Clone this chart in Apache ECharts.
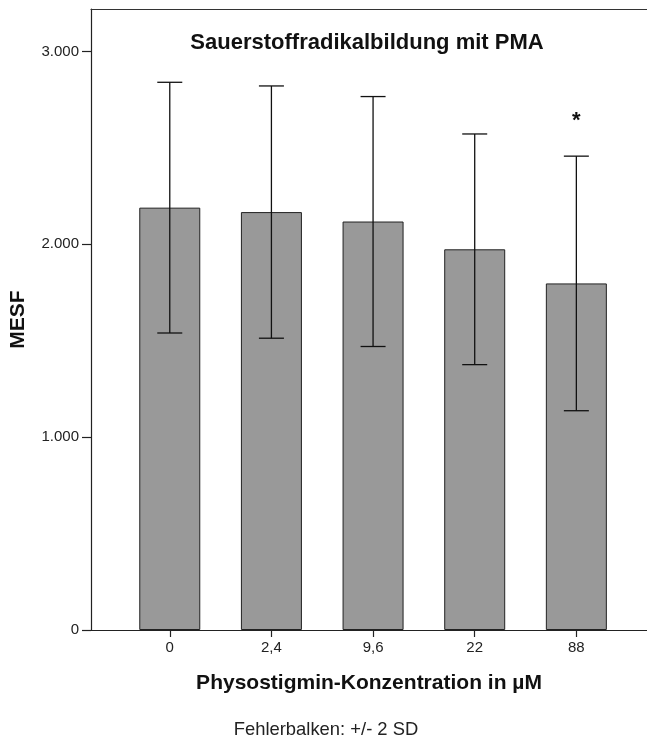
<!DOCTYPE html>
<html>
<head>
<meta charset="utf-8">
<script src="https://cdn.jsdelivr.net/npm/echarts@6/dist/echarts.min.js"></script>
<style type="text/css">
html, body { margin: 0; padding: 0; background: #fff; }
#chart { width: 647px; height: 737px; }
</style>
</head>
<body>
<div id="chart"></div>
<script type="text/javascript">
// Daten
var categories = ['0', '2,4', '9,6', '22', '88'];
var means = [2190, 2167, 2118, 1974, 1797];
var twoSD = [650, 654, 648, 598, 660];
var signif = [false, false, false, false, true];
var yTicks = [0, 1000, 2000, 3000];
var xTicks = [0, 1, 2, 3, 4];

var FONT = '"Liberation Sans", Arial, sans-serif';

var barData = means.map(function (m, i) { return [i, m]; });
var errData = means.map(function (m, i) { return [i, m - twoSD[i], m + twoSD[i], signif[i] ? 1 : 0]; });

var chart = echarts.init(document.getElementById('chart'));

var option = {
    backgroundColor: '#fff',
    animation: false,
    title: [
        {
            text: 'Sauerstoffradikalbildung mit PMA',
            left: 362, top: 27, textAlign: 'center',
            textStyle: { fontFamily: FONT, fontSize: 22, fontWeight: 'bold', color: '#111' }
        },
        {
            text: 'Fehlerbalken: +/- 2 SD',
            left: 321, top: 716, textAlign: 'center',
            textStyle: { fontFamily: FONT, fontSize: 18.4, fontWeight: 'normal', color: '#222' }
        }
    ],
    grid: { left: 89, top: 9, right: 0, bottom: 107 },
    xAxis: [
        {
            type: 'value',
            min: -0.775, max: 4.695,
            name: 'Physostigmin-Konzentration in µM',
            nameLocation: 'middle', nameGap: 43,
            nameTextStyle: { fontFamily: FONT, fontSize: 21, fontWeight: 'bold', color: '#111' },
            splitLine: { show: false },
            axisLine: { show: true, onZero: false, lineStyle: { color: '#222', width: 1.2 } },
            axisTick: { show: true, length: 7, customValues: xTicks, lineStyle: { color: '#222', width: 1.2 } },
            axisLabel: {
                customValues: xTicks,
                margin: 10,
                fontFamily: FONT, fontSize: 15, color: '#222',
                formatter: function (v) { return categories[Math.round(v)]; }
            }
        },
        {
            // obere Rahmenlinie
            type: 'value', position: 'top',
            min: -0.775, max: 4.695,
            splitLine: { show: false },
            axisLine: { show: true, onZero: false, lineStyle: { color: '#333', width: 1.2 } },
            axisTick: { show: false },
            axisLabel: { show: false }
        }
    ],
    yAxis: {
        type: 'value',
        min: 0, max: 3220, interval: 1000,
        name: 'MESF',
        nameLocation: 'middle', nameGap: 62,
        nameTextStyle: { fontFamily: FONT, fontSize: 21, fontWeight: 'bold', color: '#111' },
        splitLine: { show: false },
        axisLine: { show: true, onZero: false, lineStyle: { color: '#222', width: 1.2 } },
        axisTick: { show: true, length: 9, customValues: yTicks, lineStyle: { color: '#222', width: 1.2 } },
        axisLabel: {
            customValues: yTicks,
            margin: 12,
            fontFamily: FONT, fontSize: 15, color: '#222',
            formatter: function (v) {
                return v === 0 ? '0' : (v / 1000).toFixed(3);
            }
        }
    },
    series: [
        {
            type: 'bar',
            data: barData,
            barWidth: 61,
            itemStyle: { color: '#999999', borderColor: '#222', borderWidth: 1 }
        },
        {
            type: 'custom',
            data: errData,
            z: 10,
            renderItem: function (params, api) {
                var x = api.value(0);
                var lo = api.coord([x, api.value(1)]);
                var hi = api.coord([x, api.value(2)]);
                var half = 12.5;
                var style = { stroke: '#111', lineWidth: 1.3 };
                var children = [
                    { type: 'line', shape: { x1: lo[0], y1: lo[1], x2: hi[0], y2: hi[1] }, style: style },
                    { type: 'line', shape: { x1: lo[0] - half, y1: lo[1], x2: lo[0] + half, y2: lo[1] }, style: style },
                    { type: 'line', shape: { x1: hi[0] - half, y1: hi[1], x2: hi[0] + half, y2: hi[1] }, style: style }
                ];
                if (api.value(3)) {
                    children.push({
                        type: 'text',
                        style: {
                            text: '*', x: hi[0], y: hi[1] - 35,
                            align: 'center', verticalAlign: 'middle',
                            fontFamily: FONT, fontSize: 22, fontWeight: 'bold', fill: '#111'
                        }
                    });
                }
                return { type: 'group', children: children };
            }
        }
    ]
};
chart.setOption(option);
</script>
</body>
</html>
